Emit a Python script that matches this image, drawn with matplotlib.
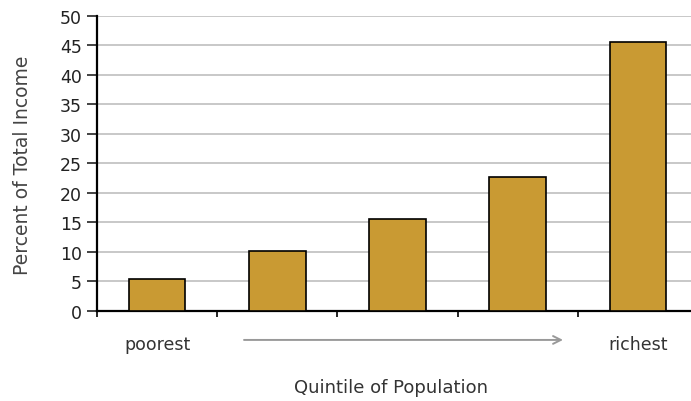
import numpy as np
import matplotlib.pyplot as plt

# quintile shares of total income
quintiles = ['poorest', '', '', '', 'richest']
share = [5.4, 10.2, 15.5, 22.7, 45.6]
y_ticks = [0, 5, 10, 15, 20, 25, 30, 35, 40, 45, 50]

plt.rcParams['font.family'] = ['DejaVu Sans']

fig = plt.figure(figsize=(6.91, 4.02), dpi=100)
ax = fig.add_axes([97 / 691, 1 - 312 / 402, 601 / 691, 295.3 / 402])

x = np.arange(len(share))
ax.bar(x, share, width=0.47, color='#C99A33', edgecolor='black', linewidth=1.2, zorder=3)

ax.set_xlim(-0.5, len(share) - 0.5)
ax.set_ylim(0, 50)
ax.set_yticks(y_ticks)
ax.yaxis.grid(True, color='#c4c4c4', linewidth=1.3, zorder=0)
ax.tick_params(axis='y', labelsize=12.5, length=7, width=1.2, direction='out', pad=4, colors='#222222')

# category boundary ticks under the x axis
ax.set_xticks(np.arange(len(share) + 1) - 0.5)
ax.set_xticklabels([])
ax.tick_params(axis='x', length=4, width=1.2, direction='out')
for i, lab in enumerate(quintiles):
    if lab:
        ax.text(i, -5.6, lab, ha='center', va='center', fontsize=12.5, color='#333333')

for s in ['top', 'right']:
    ax.spines[s].set_visible(False)
ax.spines['left'].set_linewidth(1.6)
ax.spines['bottom'].set_linewidth(1.6)

ax.annotate('', xy=(3.4, -4.9), xytext=(0.7, -4.9), xycoords='data',
            arrowprops=dict(arrowstyle='->', color='#999999', lw=1.4, mutation_scale=14),
            annotation_clip=False)

fig.text(23 / 691, 1 - 165 / 402, 'Percent of Total Income', rotation=90, ha='center', va='center',
         fontsize=13.5, color='#444444')
fig.text(391 / 691, 1 - 388 / 402, 'Quintile of Population', ha='center', va='center',
         fontsize=13, color='#333333')

fig.savefig('out.png', dpi=100)
